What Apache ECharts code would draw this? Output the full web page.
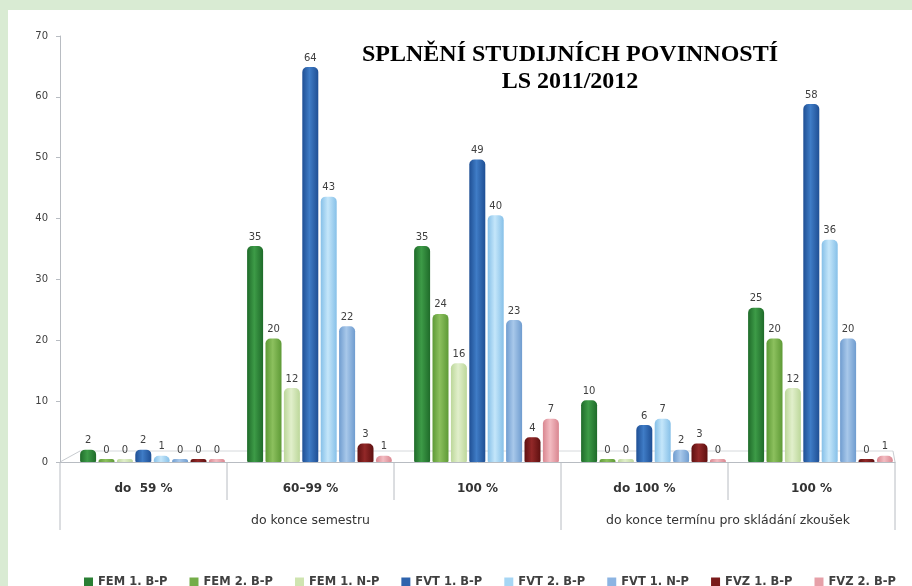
<!DOCTYPE html>
<html><head><meta charset="utf-8">
<script src="https://cdn.jsdelivr.net/npm/echarts@6/dist/echarts.min.js"></script>
<style>html,body{margin:0;padding:0;background:#d9ebd3}#c{width:912px;height:586px}</style>
</head><body><div id="c"></div>
<script>
const categories = ['do  59 %', '60–99 %', '100 %', 'do 100 %', '100 %'];
const groups = [
  { name: 'do konce semestru', from: 0, to: 2 },
  { name: 'do konce termínu pro skládání zkoušek', from: 3, to: 4 }
];
const seriesNames = ['FEM 1. B-P','FEM 2. B-P','FEM 1. N-P','FVT 1. B-P','FVT 2. B-P','FVT 1. N-P','FVZ 1. B-P','FVZ 2. B-P'];
const fem1bp = [2, 35, 35, 10, 25];
const fem2bp = [0, 20, 24, 0, 20];
const fem1np = [0, 12, 16, 0, 12];
const fvt1bp = [2, 64, 49, 6, 58];
const fvt2bp = [1, 43, 40, 7, 36];
const fvt1np = [0, 22, 23, 2, 20];
const fvz1bp = [0, 3, 4, 3, 0];
const fvz2bp = [0, 1, 7, 0, 1];
const seriesData = [fem1bp, fem2bp, fem1np, fvt1bp, fvt2bp, fvt1np, fvz1bp, fvz2bp];
const yTicks = [0, 10, 20, 30, 40, 50, 60, 70];

const colors = [
  ['#1f6b2a','#3d9b47','#1f6b2a'],
  ['#5e9a36','#8cc05e','#5e9a36'],
  ['#bcd79a','#e1efcb','#bcd79a'],
  ['#1f4f94','#3f7cc6','#1f4f94'],
  ['#86c0e8','#c4e6fa','#86c0e8'],
  ['#6f9ccf','#a8c8ea','#6f9ccf'],
  ['#5e1010','#922828','#5e1010'],
  ['#d98690','#f3bcc2','#d98690']
];
const legendColors = ['#2a7f34','#74ad48','#cfe4b0','#2e63ad','#a6d6f4','#8cb4e2','#7a1a1a','#e6a0a8'];
const sans = 'DejaVu Sans, sans-serif';

const chart = echarts.init(document.getElementById('c'));
const series = seriesNames.map((n, i) => ({
  name: n, type: 'bar', data: seriesData[i], xAxisIndex: 1, yAxisIndex: 1,
  barWidth: 16, barGap: '15%', barMinHeight: 3,
  itemStyle: {
    color: new echarts.graphic.LinearGradient(0,0,1,0,[
      {offset:0,color:colors[i][0]},{offset:0.45,color:colors[i][1]},{offset:1,color:colors[i][2]}]),
    borderRadius: [5,5,1,1]
  },
  label: { show: true, position: 'top', distance: 4, color: '#404040', fontSize: 10, fontFamily: sans }
}));

chart.setOption({
  backgroundColor: '#d9ebd3',
  animation: false,
  color: legendColors,
  title: {
    text: 'SPLNĚNÍ STUDIJNÍCH POVINNOSTÍ\nLS 2011/2012',
    left: 565, top: 36, textAlign: 'center',
    textStyle: { fontFamily: 'Liberation Serif', fontWeight: 'bold', fontSize: 24, color: '#000', lineHeight: 27 }
  },
  legend: {
    data: seriesNames.map((n,i)=>({name:n, itemStyle:{color:legendColors[i]}})),
    top: 571, left: 79, itemWidth: 9, itemHeight: 9, itemGap: 22, icon: 'rect',
    textStyle: { fontSize: 11.5, fontWeight: 'bold', color: '#404040', fontFamily: sans }
  },
  grid: [
    { left: 60, right: 17, top: 36, bottom: 124 },
    { left: 69, right: 8, top: 30, bottom: 124 }
  ],
  xAxis: [{
    type: 'category', data: categories, gridIndex: 0,
    axisLine: { lineStyle: { color: '#b8bcc2' } },
    axisTick: { show: false },
    axisLabel: { margin: 21, fontSize: 12, fontWeight: 'bold', color: '#333', fontFamily: sans }
  }, {
    type: 'category', data: categories, gridIndex: 1, show: false
  }],
  yAxis: [{
    type: 'value', min: 0, max: 70, interval: 10, gridIndex: 0,
    axisLine: { show: true, lineStyle: { color: '#b8bcc2' } },
    axisTick: { show: true, inside: false, length: 4, lineStyle: { color: '#b8bcc2' } },
    splitLine: { show: false },
    axisLabel: { fontSize: 10, color: '#404040', margin: 12, fontFamily: sans,
      formatter: v => yTicks.includes(v) ? String(v) : '' }
  }, {
    type: 'value', min: 0, max: 70, interval: 10, gridIndex: 1, show: false, splitLine: { show: false }
  }],
  series: series
});

// layout helpers computed from axis pixels
const yZero = chart.convertToPixel({ yAxisIndex: 0 }, 0);
const c0 = chart.convertToPixel({ xAxisIndex: 0 }, 0);
const c1 = chart.convertToPixel({ xAxisIndex: 0 }, 1);
const bw = c1 - c0;
const edge = i => c0 - bw / 2 + i * bw;
const line = '#b8bcc2';
const g = [
  { type: 'rect', z: -10, shape: { x: 8, y: 10, width: 904, height: 576 }, style: { fill: '#ffffff' } },
  { type: 'line', z: -5, shape: { x1: edge(0), y1: yZero, x2: edge(0)+20, y2: yZero-11 }, style: { stroke: '#c8ccd0', lineWidth: 1 } },
  { type: 'line', z: -5, shape: { x1: edge(0)+20, y1: yZero-11, x2: edge(5)-2, y2: yZero-11 }, style: { stroke: '#d6d9dc', lineWidth: 1 } },
  { type: 'line', z: -5, shape: { x1: edge(5)-2, y1: yZero-11, x2: edge(5), y2: yZero }, style: { stroke: '#c8ccd0', lineWidth: 1 } }
];
groups.forEach(gr => {
  const l = edge(gr.from), r = edge(gr.to + 1);
  g.push({ type: 'text', style: { text: gr.name, x: (l + r) / 2, y: yZero + 59, textAlign: 'center', textVerticalAlign: 'middle',
    fontSize: 12.5, fill: '#333', fontFamily: sans } });
});
const longEdges = new Set([0]);
groups.forEach(gr => longEdges.add(gr.to + 1));
for (let i = 0; i <= categories.length; i++) {
  const len = longEdges.has(i) ? 68 : 38;
  g.push({ type: 'line', shape: { x1: edge(i), y1: yZero, x2: edge(i), y2: yZero + len }, style: { stroke: line, lineWidth: 1 } });
}
chart.setOption({ graphic: g });
</script></body></html>
